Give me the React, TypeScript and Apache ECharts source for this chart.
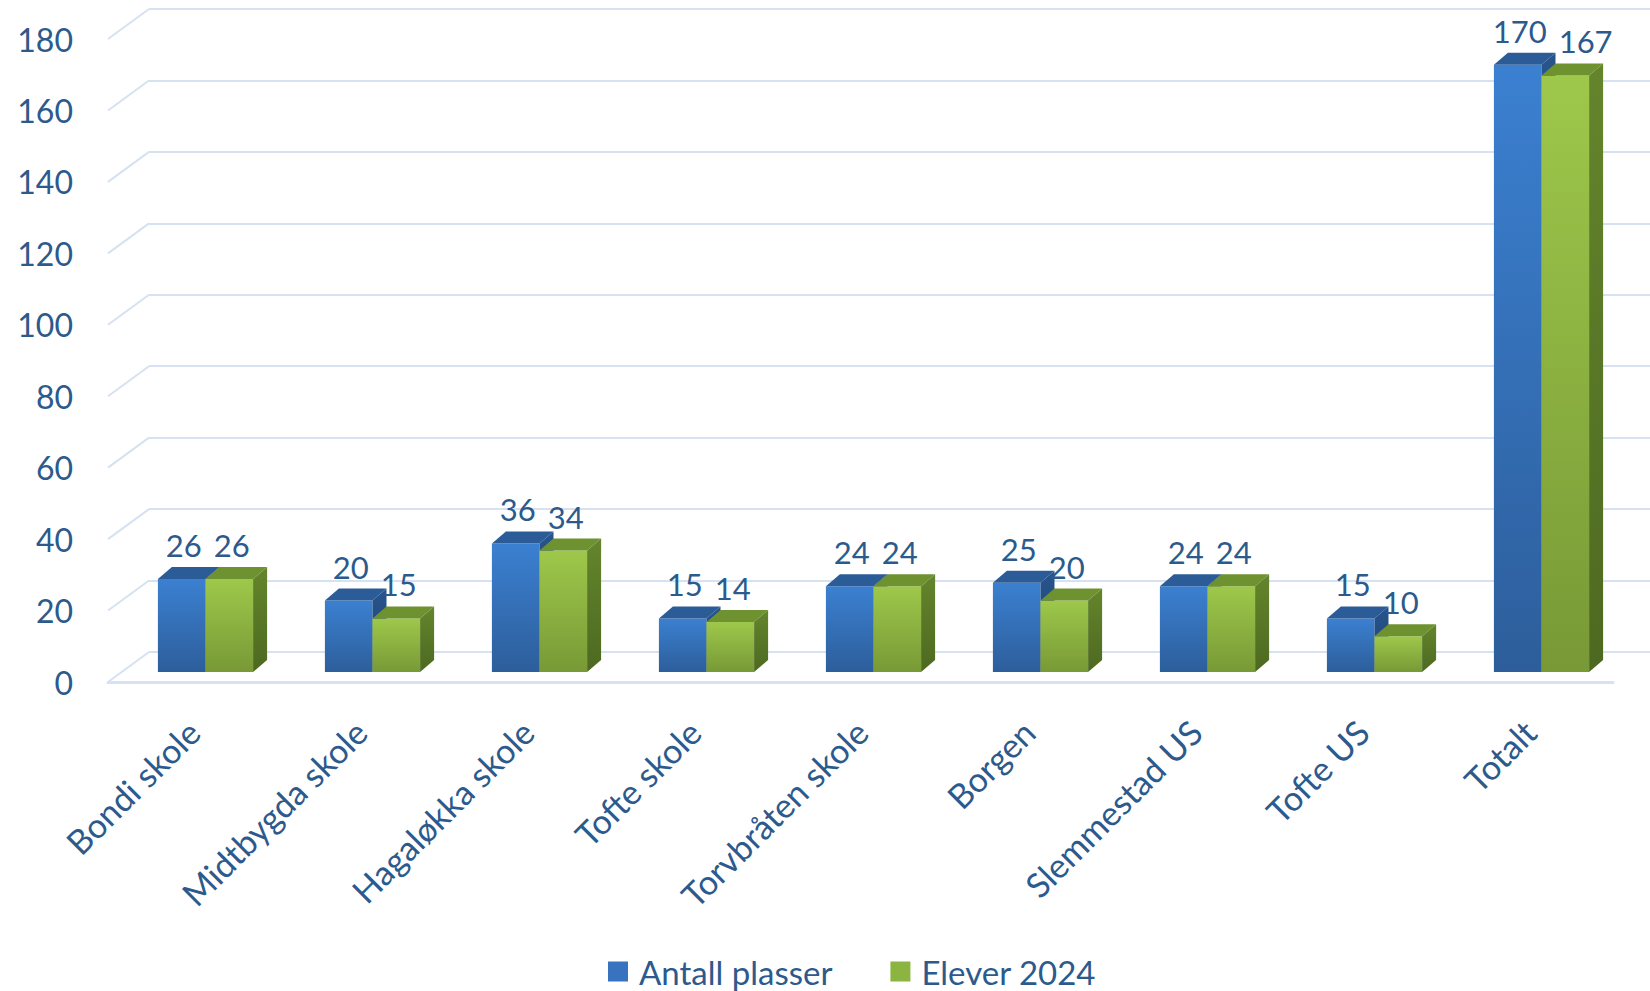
import React, { useEffect, useRef } from "react";
import * as echarts from "echarts";

const categories = [
  "Bondi skole",
  "Midtbygda skole",
  "Hagaløkka skole",
  "Tofte skole",
  "Torvbråten skole",
  "Borgen",
  "Slemmestad US",
  "Tofte US",
  "Totalt",
];
const antallPlasser = [26, 20, 36, 15, 24, 25, 24, 15, 170];
const elever2024 = [26, 15, 34, 14, 24, 20, 24, 10, 167];
const yTicks = [0, 20, 40, 60, 80, 100, 120, 140, 160, 180];
const seriesNames = ["Antall plasser", "Elever 2024"];

const TEXT = "#2c5a8c";
const FONT = "Lato";
const GRIDLINE = "#d6e2f2";
const LABEL_SIZE = 31;

const palettes = [
  {
    frontTop: "#3b80d1",
    frontBottom: "#2d5e9b",
    top: "#2c5c98",
    sideTop: "#27548c",
    sideBottom: "#1f4473",
    legend: "#3873c0",
  },
  {
    frontTop: "#9ec84b",
    frontBottom: "#789936",
    top: "#6f9230",
    sideTop: "#64852c",
    sideBottom: "#4d6921",
    legend: "#8cb441",
  },
];

function labelWidth(v: number) {
  return String(v).length * LABEL_SIZE * 0.58;
}

function makeBarRender(seriesIdx: number) {
  const pal = palettes[seriesIdx];
  return (params: any, api: any) => {
    const i = api.value(0);
    const v = api.value(1);
    const top = api.coord([i, v]);
    const base = api.coord([i, 0]);
    const band = api.size([1, 0])[0];
    const w = band * 0.285;
    const dx = 14;
    const dy = 12;
    const cx = top[0];
    const x0 = seriesIdx === 0 ? cx - w : cx;
    const yt = top[1];
    const yb = base[1];
    let shift = 0;
    if (seriesIdx === 1) {
      const other = antallPlasser[i];
      const otherTop = api.coord([i, other])[1];
      if (Math.abs(otherTop - yt) < LABEL_SIZE) {
        const need = labelWidth(other) / 2 + labelWidth(v) / 2 + 12 - w;
        if (need > 0) shift = need;
      }
    }
    return {
      type: "group",
      children: [
        {
          type: "rect",
          shape: { x: x0, y: yt, width: w, height: yb - yt },
          style: {
            fill: new echarts.graphic.LinearGradient(0, 0, 0, 1, [
              { offset: 0, color: pal.frontTop },
              { offset: 1, color: pal.frontBottom },
            ]),
          },
        },
        {
          type: "polygon",
          shape: {
            points: [
              [x0, yt],
              [x0 + dx, yt - dy],
              [x0 + w + dx, yt - dy],
              [x0 + w, yt],
            ],
          },
          style: { fill: pal.top },
        },
        {
          type: "polygon",
          shape: {
            points: [
              [x0 + w, yt],
              [x0 + w + dx, yt - dy],
              [x0 + w + dx, yb - dy],
              [x0 + w, yb],
            ],
          },
          style: {
            fill: new echarts.graphic.LinearGradient(0, 0, 0, 1, [
              { offset: 0, color: pal.sideTop },
              { offset: 1, color: pal.sideBottom },
            ]),
          },
        },
        {
          type: "text",
          z2: 100,
          style: {
            text: String(v),
            x: x0 + w / 2 + 2 + shift,
            y: yt - dy - 22,
            align: "center",
            verticalAlign: "middle",
            fill: TEXT,
            fontFamily: FONT,
            fontSize: LABEL_SIZE,
          },
        },
      ],
    };
  };
}

export default function App() {
  const ref = useRef<HTMLDivElement>(null);
  useEffect(() => {
    if (!ref.current) return;
    const chart = echarts.init(ref.current, undefined, { renderer: "svg" });
    const option: any = {
      animation: false,
      backgroundColor: "#ffffff",
      textStyle: { fontFamily: FONT },
      legend: {
        data: seriesNames.map((n, k) => ({
          name: n,
          icon: "rect",
          itemStyle: { color: palettes[k].legend },
        })),
        left: 603,
        top: 950,
        itemWidth: 20,
        itemHeight: 20,
        itemGap: 58,
        textStyle: {
          fontFamily: FONT,
          fontSize: 33,
          color: TEXT,
          padding: [0, 0, 0, 6],
        },
      },
      grid: [
        { left: 149, right: 0, top: 9, bottom: 339 },
        { left: 108, right: 37, top: 39, bottom: 309 },
        { left: 122, right: 25, top: 29, bottom: 319 },
      ],
      xAxis: [
        { gridIndex: 0, type: "value", min: 0, max: 1, show: false },
        {
          gridIndex: 1,
          type: "value",
          min: 0,
          max: 1,
          axisLine: { show: true, lineStyle: { color: GRIDLINE, width: 3 } },
          axisTick: { show: false },
          axisLabel: { show: false },
          splitLine: { show: false },
        },
        {
          gridIndex: 2,
          type: "category",
          data: categories,
          axisLine: { show: false },
          axisTick: { show: false },
          axisLabel: {
            interval: 0,
            rotate: 45,
            margin: 42,
            padding: [0, 17, 0, 0],
            fontSize: 34,
            fontFamily: FONT,
            color: TEXT,
          },
        },
      ],
      yAxis: [
        {
          gridIndex: 0,
          type: "value",
          min: 0,
          max: 180,
          interval: 20,
          axisLine: { show: false },
          axisTick: { show: false },
          axisLabel: { show: false },
          splitLine: { show: true, lineStyle: { color: GRIDLINE, width: 2 } },
        },
        {
          gridIndex: 1,
          type: "value",
          min: 0,
          max: 180,
          interval: 20,
          axisLine: { show: false },
          axisTick: { show: false },
          splitLine: { show: false },
          axisLabel: {
            margin: 35,
            fontSize: 32,
            fontFamily: FONT,
            color: TEXT,
          },
        },
        {
          gridIndex: 2,
          type: "value",
          min: 0,
          max: 180,
          interval: 20,
          show: false,
        },
      ],
      series: [
        {
          type: "custom",
          name: "walls",
          xAxisIndex: 0,
          yAxisIndex: 0,
          silent: true,
          data: yTicks.map((t) => [0, t]),
          renderItem: (params: any, api: any) => {
            const p = api.coord([0, api.value(1)]);
            return {
              type: "line",
              shape: { x1: p[0], y1: p[1], x2: p[0] - 41, y2: p[1] + 30 },
              style: { stroke: GRIDLINE, lineWidth: 2 },
            };
          },
        },
        {
          type: "custom",
          name: seriesNames[0],
          xAxisIndex: 2,
          yAxisIndex: 2,
          itemStyle: { color: palettes[0].legend },
          data: antallPlasser.map((v, i) => [i, v]),
          renderItem: makeBarRender(0),
        },
        {
          type: "custom",
          name: seriesNames[1],
          xAxisIndex: 2,
          yAxisIndex: 2,
          itemStyle: { color: palettes[1].legend },
          data: elever2024.map((v, i) => [i, v]),
          renderItem: makeBarRender(1),
        },
      ],
    };
    chart.setOption(option);
    return () => chart.dispose();
  }, []);
  return (
    <div
      ref={ref}
      style={{ position: "fixed", left: 0, top: 0, width: 1650, height: 991 }}
    />
  );
}
